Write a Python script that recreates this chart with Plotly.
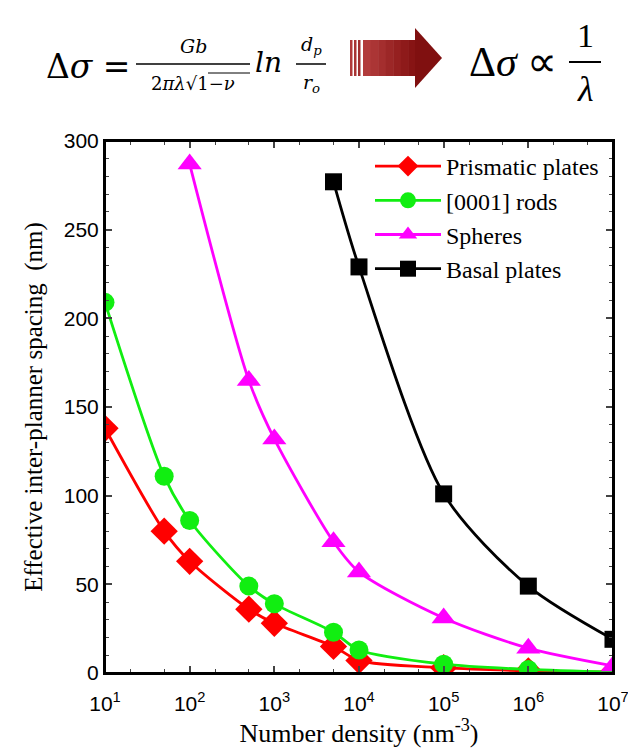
import plotly.graph_objects as go

# ---- data ----
x_prism = [10, 50, 100, 500, 1000, 5000, 1e4, 1e5, 1e6, 1e7]
y_prism = [138, 80, 63, 36, 28, 15, 7, 3, 1.2, 0.5]

x_rods = [10, 50, 100, 500, 1000, 5000, 1e4, 1e5, 1e6, 1e7]
y_rods = [209, 111, 86, 49, 39, 23, 13, 5, 2, 0.5]

x_sph = [100, 500, 1000, 5000, 1e4, 1e5, 1e6, 1e7]
y_sph = [287, 165, 132, 74, 57, 31, 14, 4]

x_basal = [5000, 1e4, 1e5, 1e6, 1e7]
y_basal = [277, 229, 101, 49, 19]

x_tickvals = [10, 100, 1000, 1e4, 1e5, 1e6, 1e7]
x_ticktext = ["10<sup>1</sup>", "10<sup>2</sup>", "10<sup>3</sup>", "10<sup>4</sup>",
              "10<sup>5</sup>", "10<sup>6</sup>", "10<sup>7</sup>"]

W, H = 628, 752
L, R, T, B = 105, 613, 141, 673

def px(X):
    return (X - L) / (R - L)

def py(Y):
    return (B - Y) / (B - T)

SERIF = "Liberation Serif"
SANS = "Liberation Sans"

fig = go.Figure()
series = [
    ("Prismatic plates", x_prism, y_prism, "#ff0000", "diamond", 21),
    ("[0001] rods", x_rods, y_rods, "#11ee11", "circle", 19),
    ("Spheres", x_sph, y_sph, "#ff00ff", "triangle-up", 21),
    ("Basal plates", x_basal, y_basal, "#000000", "square", 17),
]
for name, xs, ys, col, sym, sz in series:
    fig.add_trace(go.Scatter(
        x=xs, y=ys, name=name, mode="lines+markers",
        line=dict(color=col, width=2.8, shape="spline", smoothing=0.8),
        marker=dict(color=col, symbol=sym, size=sz),
    ))

ann = []
shapes = []

def text(X, Y, s, size, family=SERIF, color="black"):
    ann.append(dict(x=px(X), y=py(Y), xref="paper", yref="paper", text=s,
                    showarrow=False, xanchor="center", yanchor="middle",
                    font=dict(family=family, size=size, color=color)))

def hline(x0, x1, Y, w=1.5):
    shapes.append(dict(type="line", xref="paper", yref="paper",
                       x0=px(x0), x1=px(x1), y0=py(Y), y1=py(Y),
                       line=dict(color="black", width=w)))

# left formula
text(88, 66, "Δ<i>σ</i> =", 33, "DejaVu Serif")
text(193, 46, "<i>Gb</i>", 19, "DejaVu Serif")
hline(136, 250, 64)
text(193, 84, "2<i>πλ</i>√1−<i>ν</i>", 18, "DejaVu Serif")
hline(208, 250, 73, 1)
text(268, 63, "<i>ln</i>", 28, "DejaVu Serif")
text(311, 46, "<i>d<sub>p</sub></i>", 19, "DejaVu Serif")
hline(296, 326, 64)
text(311, 84, "<i>r<sub>o</sub></i>", 19, "DejaVu Serif")

# arrow
for i, c in enumerate(["#b03a3a", "#a83434", "#a02e2e"]):
    shapes.append(dict(type="rect", xref="paper", yref="paper",
                       x0=px(350 + 4 * i), x1=px(352.5 + 4 * i), y0=py(76), y1=py(40),
                       line=dict(width=0), fillcolor=c))
grad = ["#b23c3c", "#ab3535", "#a42e2e", "#9c2727", "#952020", "#8e1a1a", "#871414"]
seg = (416 - 363) / len(grad)
for i, c in enumerate(grad):
    shapes.append(dict(type="rect", xref="paper", yref="paper",
                       x0=px(363 + i * seg), x1=px(363 + (i + 1) * seg + 0.5),
                       y0=py(76), y1=py(40), line=dict(width=0), fillcolor=c))
shapes.append(dict(type="path", xref="paper", yref="paper",
                   path=f"M {px(415)} {py(28)} L {px(442)} {py(58)} L {px(415)} {py(88)} Z",
                   line=dict(width=0), fillcolor="#801010"))

# right formula
text(513, 62, "Δ<i>σ</i> ∝", 42)
text(585, 36, "1", 34)
hline(569, 601, 62, 2)
text(585, 89, "<i>λ</i>", 36)

# frame
shapes.append(dict(type="rect", xref="paper", yref="paper", x0=0, x1=1, y0=0, y1=1,
                   line=dict(color="black", width=2), layer="above"))

fig.update_layout(
    template="none",
    width=W, height=H,
    margin=dict(l=L, r=W - R, t=T, b=H - B, pad=0),
    plot_bgcolor="white", paper_bgcolor="white",
    showlegend=True,
    legend=dict(x=px(604), xanchor="right", y=py(144), yanchor="top",
                bgcolor="rgba(0,0,0,0)", font=dict(family=SERIF, size=24, color="black"),
                tracegroupgap=0, itemwidth=66),
    annotations=ann, shapes=shapes,
    xaxis=dict(type="log", range=[1, 7.0002], tickvals=x_tickvals, ticktext=x_ticktext,
               automargin=False, ticklabeloverflow="allow",
               ticks="inside", ticklen=7, tickwidth=1.5, showline=True, linecolor="black",
               linewidth=2, mirror="ticks", showgrid=False, zeroline=False,
               ticklabelstandoff=11,
               tickfont=dict(family=SANS, size=21, color="black"),
               minor=dict(ticks="inside", ticklen=4, tickwidth=1.2, showgrid=False),
               title=dict(text="Number density (nm<sup>-3</sup>)",
                          font=dict(family=SERIF, size=26, color="black"), standoff=8)),
    yaxis=dict(range=[0, 300], dtick=50, ticks="inside", ticklen=7, tickwidth=1.5,
               automargin=False,
               showline=True, linecolor="black", linewidth=2, mirror="ticks",
               showgrid=False, zeroline=False,
               tickfont=dict(family=SANS, size=21, color="black"),
               minor=dict(dtick=10, ticks="inside", ticklen=4, tickwidth=1.2, showgrid=False),
               title=dict(text="Effective inter-planner spacing  (nm)",
                          font=dict(family=SERIF, size=25, color="black"), standoff=14)),
)

fig.write_html("out.html", config={"displayModeBar": False},
               post_script="document.body.style.margin='0';document.body.style.overflow='hidden';")
